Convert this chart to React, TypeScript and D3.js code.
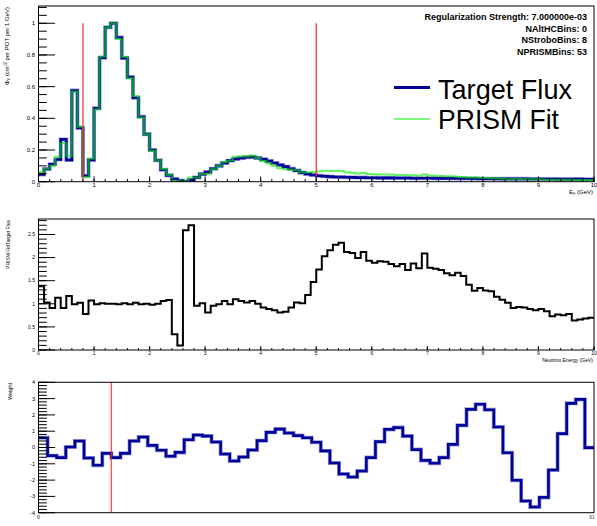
import React from 'react';
import * as d3 from 'd3';

// ---------------- DATA ----------------
const E_MIN = 0;
const E_MAX = 10;
const BIN_W = 0.1;

// Target flux (blue), 0.1 GeV bins from 0 to 10 GeV
const targetFlux = [
  0.045, 0.080, 0.110, 0.140, 0.267, 0.137, 0.575, 0.340, 0.038, 0.137,
  0.463, 0.783, 0.975, 1.000, 0.910, 0.780, 0.660, 0.530, 0.410, 0.300,
  0.200, 0.135, 0.075, 0.040, 0.017, 0.006, 0.002, 0.010, 0.027, 0.048,
  0.061, 0.082, 0.100, 0.118, 0.133, 0.143, 0.150, 0.154, 0.156, 0.150,
  0.141, 0.130, 0.118, 0.105, 0.095, 0.082, 0.070, 0.057, 0.049, 0.042,
  0.038, 0.034, 0.032, 0.030, 0.029, 0.028, 0.027, 0.026, 0.026, 0.025,
  0.025, 0.024, 0.024, 0.024, 0.023, 0.023, 0.023, 0.022, 0.022, 0.022,
  0.022, 0.021, 0.021, 0.021, 0.021, 0.020, 0.020, 0.020, 0.020, 0.019,
  0.019, 0.019, 0.019, 0.018, 0.018, 0.018, 0.018, 0.018, 0.017, 0.017,
  0.017, 0.017, 0.017, 0.016, 0.016, 0.016, 0.016, 0.016, 0.015, 0.015,
];

// PRISM fit (green)
const prismFit = [
  0.062, 0.082, 0.100, 0.158, 0.243, 0.160, 0.569, 0.347, 0.030, 0.147,
  0.458, 0.791, 0.975, 1.000, 0.901, 0.788, 0.653, 0.541, 0.406, 0.300,
  0.196, 0.135, 0.080, 0.043, 0.006, 0.001, 0.005, 0.027, 0.026, 0.048,
  0.049, 0.079, 0.099, 0.125, 0.132, 0.157, 0.159, 0.159, 0.165, 0.150,
  0.130, 0.116, 0.101, 0.085, 0.079, 0.075, 0.072, 0.058, 0.058, 0.062,
  0.066, 0.069, 0.069, 0.068, 0.067, 0.059, 0.057, 0.052, 0.055, 0.048,
  0.047, 0.046, 0.046, 0.045, 0.043, 0.043, 0.040, 0.041, 0.037, 0.046,
  0.039, 0.037, 0.036, 0.035, 0.034, 0.032, 0.029, 0.026, 0.027, 0.025,
  0.024, 0.022, 0.021, 0.019, 0.016, 0.017, 0.017, 0.016, 0.015, 0.015,
  0.014, 0.013, 0.012, 0.012, 0.012, 0.012, 0.010, 0.010, 0.010, 0.011,
];

// PRISM Fit / Target Flux ratio
const fitRatio = [
  1.38, 1.03, 0.91, 1.13, 0.91, 1.17, 0.99, 1.02, 0.78, 1.07,
  0.99, 1.01, 1.00, 1.00, 0.99, 1.01, 0.99, 1.02, 0.99, 1.00,
  0.98, 1.00, 1.06, 1.08, 0.34, 0.10, 2.59, 2.70, 0.96, 1.01,
  0.81, 0.96, 0.99, 1.06, 0.99, 1.10, 1.06, 1.03, 1.06, 1.00,
  0.92, 0.89, 0.86, 0.81, 0.83, 0.92, 1.03, 1.01, 1.19, 1.47,
  1.74, 2.03, 2.16, 2.28, 2.32, 2.12, 2.10, 1.99, 2.12, 1.93,
  1.89, 1.92, 1.91, 1.86, 1.81, 1.86, 1.73, 1.87, 1.77, 2.09,
  1.78, 1.76, 1.73, 1.66, 1.62, 1.67, 1.60, 1.41, 1.28, 1.34,
  1.29, 1.27, 1.15, 1.09, 1.02, 0.91, 0.93, 0.92, 0.89, 0.86,
  0.89, 0.84, 0.73, 0.77, 0.75, 0.78, 0.64, 0.66, 0.68, 0.70,
];

// Fit weights: 8 strobo bins + 53 PRISM bins
const weights = [
  0.60, -0.50, -0.62, 0.03, 0.40, -0.64, -1.09, -0.36, -0.62, -0.36,
  0.40, 0.64, 0.13, -0.17, -0.54, -0.30, 0.48, 0.77, 0.70, 0.34,
  -0.40, -0.83, -0.58, -0.15, 0.42, 0.93, 1.13, 0.89, 0.73, 0.60,
  0.32, -0.21, -0.95, -1.63, -1.81, -1.44, -0.62, 0.36, 1.11, 1.22,
  0.70, -0.13, -0.79, -0.97, -0.62, 0.19, 1.36, 2.34, 2.65, 2.32,
  1.26, -0.32, -2.01, -3.28, -3.65, -3.06, -1.38, 0.85, 2.71, 2.95,
  -0.01,
];

const fitRange = [0.8, 5.0];
const nStroboBins = 8;

const infoLines = [
  'Regularization Strength: 7.000000e-03',
  'NAltHCBins: 0',
  'NStroboBins: 8',
  'NPRISMBins: 53',
];
const legendLabels = ['Target Flux', 'PRISM Fit'];

const energyTickLabels = ['0', '1', '2', '3', '4', '5', '6', '7', '8', '9', '10'];
const fluxTickLabels = ['0', '0.2', '0.4', '0.6', '0.8', '1'];
const ratioTickLabels = ['0', '0.5', '1', '1.5', '2', '2.5'];
const weightTickLabels = ['-4', '-3', '-2', '-1', '0', '1', '2', '3', '4'];

// ---------------- LAYOUT ----------------
const W = 597;
const H = 526;
const X0 = 38.5;
const X1 = 594;
const TOP = { t: 6, b: 181.7 };
const MID = { t: 219, b: 350 };
const BOT = { t: 382.3, b: 512.7 };
const FONT = "'Liberation Sans', Arial, Helvetica, sans-serif";

const BLUE = '#000099';
const GREEN = '#00ee00';
const RED = '#ff2a2a';

function stepPath(values: number[], x0: number, w: number, xs: any, ys: any) {
  const pts: [number, number][] = values.map((v, i) => [x0 + i * w, v]);
  pts.push([x0 + values.length * w, values[values.length - 1]]);
  const line = d3
    .line<[number, number]>()
    .x((d) => xs(d[0]))
    .y((d) => ys(d[1]))
    .curve(d3.curveStepAfter);
  return line(pts) || '';
}

function range(a: number, b: number, s: number) {
  const out: number[] = [];
  const n = Math.round((b - a) / s);
  for (let i = 0; i <= n; i++) out.push(a + i * s);
  return out;
}

function YTicks({ ys, major, minor, labels, fs }: any) {
  const majLen = 16.6;
  const minLen = 8.3;
  return (
    <g>
      {minor.map((v: number, i: number) => (
        <line key={'mn' + i} x1={X0} x2={X0 + minLen} y1={ys(v)} y2={ys(v)} stroke="#000" strokeWidth={1} />
      ))}
      {major.map((v: number, i: number) => (
        <line key={'mj' + i} x1={X0} x2={X0 + majLen} y1={ys(v)} y2={ys(v)} stroke="#000" strokeWidth={1} />
      ))}
      {major.map((v: number, i: number) => (
        <text key={'lb' + i} x={35} y={ys(v)} dy="0.35em" textAnchor="end" fontSize={fs} fontFamily={FONT} fill="#000">
          {labels[i]}
        </text>
      ))}
    </g>
  );
}

function XTicks({ xs, yb, majLen, labels, fs, labelY }: any) {
  const major = range(E_MIN, E_MAX, 1);
  const minor = range(E_MIN, E_MAX, 0.2);
  return (
    <g>
      {minor.map((v, i) => (
        <line key={'mn' + i} x1={xs(v)} x2={xs(v)} y1={yb} y2={yb - majLen / 2} stroke="#000" strokeWidth={1} />
      ))}
      {major.map((v, i) => (
        <line key={'mj' + i} x1={xs(v)} x2={xs(v)} y1={yb} y2={yb - majLen} stroke="#000" strokeWidth={1} />
      ))}
      {major.map((v, i) => (
        <text key={'lb' + i} x={xs(v)} y={labelY} textAnchor="middle" fontSize={fs} fontFamily={FONT} fill="#000">
          {labels[i]}
        </text>
      ))}
    </g>
  );
}

export default function App() {
  const xE = d3.scaleLinear().domain([E_MIN, E_MAX]).range([X0, X1]);
  const yFlux = d3.scaleLinear().domain([0, 1.109]).range([TOP.b, TOP.t]);
  const yRatio = d3.scaleLinear().domain([0, 2.835]).range([MID.b, MID.t]);
  const xW = d3.scaleLinear().domain([0, weights.length]).range([X0, X1]);
  const yW = d3.scaleLinear().domain([-4, 4]).range([BOT.b, BOT.t]);

  const bluePath = stepPath(targetFlux, E_MIN, BIN_W, xE, yFlux);
  const greenPath = stepPath(prismFit, E_MIN, BIN_W, xE, yFlux);
  const ratioPath = stepPath(fitRatio, E_MIN, BIN_W, xE, yRatio);
  const weightPath = stepPath(weights, 0, 1, xW, yW);

  return (
    <svg
      width={W}
      height={H}
      viewBox={`0 0 ${W} ${H}`}
      style={{ position: 'absolute', left: 0, top: 0, background: '#fff' }}
    >
      <rect x={0} y={0} width={W} height={H} fill="#fff" />

      <defs>
        <clipPath id="clipTop">
          <rect x={X0} y={TOP.t} width={X1 - X0} height={TOP.b - TOP.t} />
        </clipPath>
        <clipPath id="clipMid">
          <rect x={X0} y={MID.t} width={X1 - X0} height={MID.b - MID.t} />
        </clipPath>
        <clipPath id="clipBot">
          <rect x={X0} y={BOT.t} width={X1 - X0} height={BOT.b - BOT.t} />
        </clipPath>
      </defs>

      {/* ---------- TOP PANEL ---------- */}
      <g clipPath="url(#clipTop)">
        <path d={bluePath} fill="none" stroke="#9aa0dc" strokeWidth={4} />
        <path d={bluePath} fill="none" stroke={BLUE} strokeWidth={2.6} />
        <path d={greenPath} fill="none" stroke={GREEN} strokeWidth={2} strokeOpacity={0.62} />
        {fitRange.map((e, i) => (
          <line key={i} x1={xE(e)} x2={xE(e)} y1={yFlux(0)} y2={yFlux(1)} stroke={RED} strokeWidth={1.2} />
        ))}
      </g>
      <rect x={X0} y={TOP.t} width={X1 - X0} height={TOP.b - TOP.t} fill="none" stroke="#000" strokeWidth={1} />
      <YTicks
        ys={yFlux}
        major={range(0, 1, 0.2)}
        minor={range(0, 1.1, 0.05)}
        labels={fluxTickLabels}
        fs={6}
      />
      <XTicks xs={xE} yb={TOP.b} majLen={5.3} labels={energyTickLabels} fs={6} labelY={187} />
      <text x={593} y={193.5} textAnchor="end" fontSize={6} fontFamily={FONT}>
        E<tspan fontSize={4.5} dy={1.2}>ν</tspan>
        <tspan dy={-1.2}> (GeV)</tspan>
      </text>
      <text transform={`translate(8.5, 7) rotate(-90)`} textAnchor="end" fontSize={6} fontFamily={FONT}>
        Φ<tspan fontSize={4.5} dy={1.2}>ν</tspan>
        <tspan dy={-1.2}> (cm</tspan>
        <tspan fontSize={4.5} dy={-2}>-2</tspan>
        <tspan dy={2}> per POT per 1 GeV)</tspan>
      </text>

      {/* info text */}
      {infoLines.map((t, i) => (
        <text
          key={i}
          x={587}
          y={20 + i * 11.6}
          textAnchor="end"
          fontSize={9}
          fontWeight="bold"
          fontFamily={FONT}
          fill="#000"
        >
          {t}
        </text>
      ))}
      {/* legend */}
      <line x1={394} x2={430} y1={87.5} y2={87.5} stroke={BLUE} strokeWidth={3} />
      <line x1={394} x2={430} y1={119} y2={119} stroke={GREEN} strokeWidth={1.2} />
      <text x={438} y={98.5} fontSize={28.5} fontFamily={FONT} fill="#000" textLength={134} lengthAdjust="spacingAndGlyphs">
        {legendLabels[0]}
      </text>
      <text x={438} y={129} fontSize={28.5} fontFamily={FONT} fill="#000" textLength={121} lengthAdjust="spacingAndGlyphs">
        {legendLabels[1]}
      </text>

      {/* ---------- MIDDLE PANEL ---------- */}
      <g clipPath="url(#clipMid)">
        <path d={ratioPath} fill="none" stroke="#000" strokeWidth={2} />
      </g>
      <rect x={X0} y={MID.t} width={X1 - X0} height={MID.b - MID.t} fill="none" stroke="#000" strokeWidth={1} />
      <YTicks
        ys={yRatio}
        major={range(0, 2.5, 0.5)}
        minor={range(0, 2.8, 0.1)}
        labels={ratioTickLabels}
        fs={5}
      />
      <XTicks xs={xE} yb={MID.b} majLen={3.9} labels={energyTickLabels} fs={5} labelY={355} />
      <text x={593} y={361.5} textAnchor="end" fontSize={5} fontFamily={FONT}>
        Neutrino Energy (GeV)
      </text>
      <text transform={`translate(10, 220) rotate(-90)`} textAnchor="end" fontSize={5} fontFamily={FONT}>
        PRISM Fit/Target Flux
      </text>

      {/* ---------- BOTTOM PANEL ---------- */}
      <g clipPath="url(#clipBot)">
        <path d={weightPath} fill="none" stroke="#9aa0dc" strokeWidth={4} />
        <path d={weightPath} fill="none" stroke={BLUE} strokeWidth={2.6} />
        <line
          x1={xW(nStroboBins)}
          x2={xW(nStroboBins)}
          y1={BOT.t}
          y2={BOT.b}
          stroke={RED}
          strokeWidth={1.4}
          strokeOpacity={0.8}
        />
      </g>
      <rect x={X0} y={BOT.t} width={X1 - X0} height={BOT.b - BOT.t} fill="none" stroke="#000" strokeWidth={1} />
      <YTicks
        ys={yW}
        major={range(-4, 4, 1)}
        minor={range(-4, 4, 0.2)}
        labels={weightTickLabels}
        fs={5.5}
      />
      <text x={xW(0)} y={518.5} textAnchor="middle" fontSize={5} fontFamily={FONT}>
        0
      </text>
      <text x={xW(weights.length) - 2} y={518.5} textAnchor="middle" fontSize={5} fontFamily={FONT} fill="#444">
        {String(weights.length)}
      </text>
      <text transform={`translate(12, 383) rotate(-90)`} textAnchor="end" fontSize={5.5} fontFamily={FONT}>
        Weight
      </text>
    </svg>
  );
}
